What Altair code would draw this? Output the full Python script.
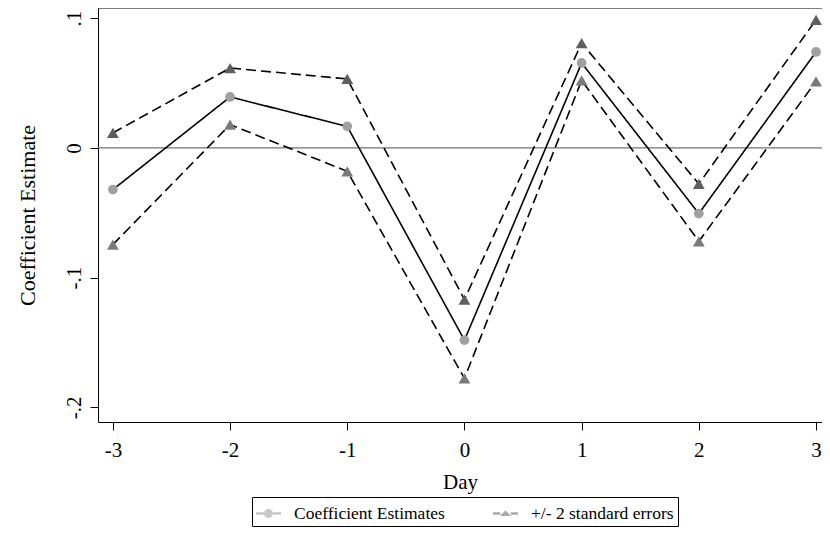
import altair as alt
import pandas as pd

days = [-3, -2, -1, 0, 1, 2, 3]
coef = [-0.0321, 0.0393, 0.0166, -0.1482, 0.0655, -0.0506, 0.0740]
upper = [0.0116, 0.0616, 0.0532, -0.1169, 0.0809, -0.0277, 0.0988]
lower = [-0.0745, 0.0180, -0.0180, -0.1777, 0.0521, -0.0720, 0.0513]

legend_names = ["Coefficient Estimates", "+/- 2 standard errors"]
y_ticks = [-0.2, -0.1, 0.0, 0.1]
x_ticks = [-3, -2, -1, 0, 1, 2, 3]
x_domain = [-3.127, 3.051]
y_domain = [-0.2113, 0.1079]
x_title = "Day"
y_title = "Coefficient Estimate"

rows = []
for d, c, u, l in zip(days, coef, upper, lower):
    rows.append({"day": d, "value": c, "series": "coef", "legend": legend_names[0]})
    rows.append({"day": d, "value": u, "series": "upper", "legend": legend_names[1]})
    rows.append({"day": d, "value": l, "series": "lower", "legend": legend_names[1]})
df = pd.DataFrame(rows)
zero_df = pd.DataFrame({"value": [0.0]})
frame_df = pd.DataFrame({"value": [y_domain[1]]})

FONT = "Liberation Serif"
xscale = alt.Scale(domain=x_domain, nice=False, zero=False)
yscale = alt.Scale(domain=y_domain, nice=False, zero=False)

x_axis = alt.Axis(orient="bottom", values=x_ticks, title=x_title, tickSize=8,
                  labelExpr="toString(datum.value)",
                  labelFontSize=21, titleFontSize=21, labelPadding=9, titlePadding=11,
                  titleFontWeight="normal", labelFont=FONT, titleFont=FONT,
                  labelColor="black", titleColor="black", domainColor="black",
                  tickColor="black", grid=False, labelFlush=False)
y_axis = alt.Axis(orient="left", values=y_ticks, title=y_title, tickSize=8,
                  labelExpr="datum.value == 0 ? '0' : (datum.value < 0 ? '-' : '') + '.' + toString(round(abs(datum.value) * 10))",
                  labelAngle=270, labelFontSize=21, titleFontSize=22, labelPadding=6,
                  titlePadding=24, titleFontWeight="normal", labelFont=FONT, titleFont=FONT,
                  labelColor="black", titleColor="black", domainColor="black",
                  tickColor="black", grid=False, labelFlush=False)

X = alt.X("day:Q", scale=xscale, axis=x_axis)
Y = alt.Y("value:Q", scale=yscale, axis=y_axis)

frame_rule = alt.Chart(frame_df).mark_rule(color="black", strokeWidth=1.2).encode(y=Y)
zero_rule = alt.Chart(zero_df).mark_rule(color="#707070", strokeWidth=1.2).encode(y=Y)

lines = alt.Chart(df).mark_line(color="black", strokeWidth=1.6).encode(
    x=X, y=Y,
    detail="series:N",
    strokeDash=alt.StrokeDash("series:N", scale=alt.Scale(domain=["coef", "upper", "lower"],
                                                         range=[[1, 0], [10, 5], [10, 5]]), legend=None),
)

main_pts = alt.Chart(df).transform_filter(alt.datum.series != "lower").mark_point(
    filled=True, opacity=1).encode(
    x=X, y=Y,
    fill=alt.Fill("legend:N", scale=alt.Scale(domain=legend_names, range=["#a0a0a0", "#5e5e5e"]), legend=None),
    shape=alt.Shape("legend:N", scale=alt.Scale(domain=legend_names, range=["circle", "triangle-up"]), legend=None),
    size=alt.Size("legend:N", scale=alt.Scale(domain=legend_names, range=[95, 140]), legend=None),
)

lower_pts = alt.Chart(df).transform_filter(alt.datum.series == "lower").mark_point(
    filled=True, opacity=1, shape="triangle-up", size=140, color="#7a7a7a").encode(x=X, y=Y)

circ_path = ("M-1,-0.1 H-0.36 V0.1 H-1 Z M0.36,-0.1 H1 V0.1 H0.36 Z "
             "M0.36,0 A0.36,0.36 0 1,1 -0.36,0 A0.36,0.36 0 1,1 0.36,0 Z")
tri_path = ("M-1,-0.1 H-0.42 V0.1 H-1 Z M0.42,-0.1 H1 V0.1 H0.42 Z "
            "M-0.46,0.2 L0,-0.24 L0.46,0.2 Z")

leg = alt.Legend(title=None, orient="none", legendX=154, legendY=489, direction="horizontal",
                 strokeColor="black", padding=4, symbolSize=625, symbolStrokeWidth=0,
                 labelFont=FONT, labelFontSize=17.5, labelColor="black", labelOffset=13,
                 columnPadding=48, labelLimit=400)

legend_layer = alt.Chart(df).transform_filter(alt.datum.series != "lower").mark_point(
    filled=True, size=0).encode(
    x=X, y=Y,
    fill=alt.Fill("legend:N", scale=alt.Scale(domain=legend_names, range=["#8c8c8c", "#505050"]), legend=leg),
    shape=alt.Shape("legend:N", scale=alt.Scale(domain=legend_names, range=[circ_path, tri_path]), legend=leg),
)

chart = alt.layer(frame_rule, zero_rule, lines, main_pts, lower_pts, legend_layer).resolve_scale(
    shape="independent", fill="independent", size="independent"
).properties(
    width=724, height=414,
    background="white",
    autosize=alt.AutoSizeParams(type="none"),
    padding={"left": 90, "top": 0, "right": 0, "bottom": 111},
).configure_view(stroke=None)

chart.save("out.html", embed_options={"renderer": "svg", "actions": False})
